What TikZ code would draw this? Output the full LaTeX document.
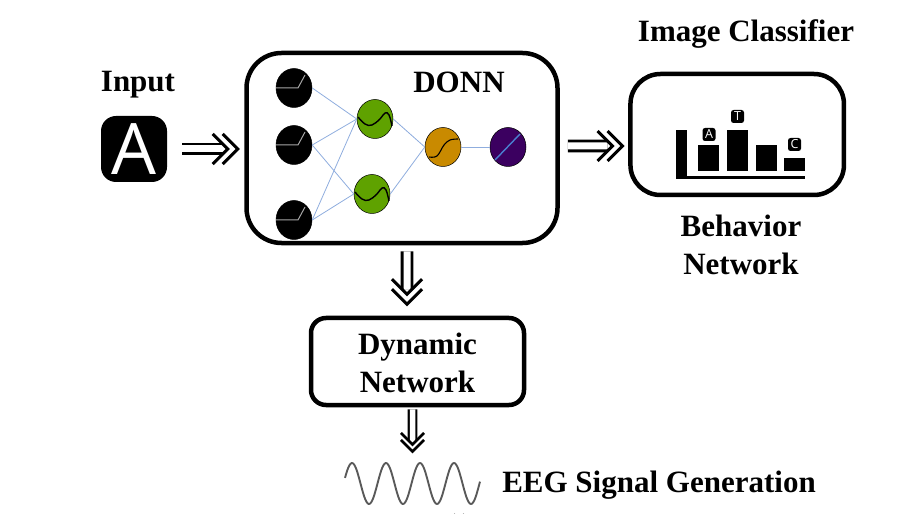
\documentclass[tikz,border=0pt]{standalone}
\usepackage{fontspec}
\setmainfont{Liberation Serif}
\newfontfamily\tagfont{Open Sans}
\usetikzlibrary{arrows.meta,shapes.geometric}
\definecolor{edgeblue}{HTML}{8FADDE}
\definecolor{slopeblue}{HTML}{4A7FD0}
\definecolor{sinegreen}{HTML}{5FA200}
\definecolor{sigorange}{HTML}{C98A00}
\definecolor{linpurple}{HTML}{3B0060}
\pgfdeclarearrow{
  name=Chevrons,
  defaults={length=10bp,width=30bp,line width=3bp},
  parameters={\the\pgfarrowlength,\the\pgfarrowwidth,\the\pgfarrowlinewidth},
  setup code={
    \pgfarrowssettipend{.7\pgfarrowlinewidth}
    \pgfarrowssetlineend{-1.5\pgfarrowlength}
    \pgfarrowssetbackend{-2.5\pgfarrowlength}
    \pgfarrowssetvisualbackend{-1.5\pgfarrowlength}
    \pgfarrowssavethe\pgfarrowlength
    \pgfarrowssavethe\pgfarrowwidth
    \pgfarrowssavethe\pgfarrowlinewidth
  },
  drawing code={
    \pgfsetdash{}{+0pt}
    \pgfsetbuttcap
    \pgfsetmiterjoin
    \pgfsetlinewidth{\pgfarrowlinewidth}
    \pgfpathmoveto{\pgfpoint{-.5\pgfarrowwidth}{.5\pgfarrowwidth}}
    \pgfpathlineto{\pgfpoint{0pt}{0pt}}
    \pgfpathlineto{\pgfpoint{-.5\pgfarrowwidth}{-.5\pgfarrowwidth}}
    \pgfpathmoveto{\pgfpoint{-\pgfarrowlength-.5\pgfarrowwidth}{.5\pgfarrowwidth}}
    \pgfpathlineto{\pgfpoint{-\pgfarrowlength}{0pt}}
    \pgfpathlineto{\pgfpoint{-\pgfarrowlength-.5\pgfarrowwidth}{-.5\pgfarrowwidth}}
    \pgfusepathqstroke
  }
}
\tikzset{
  boldtext/.style={font=\fontsize{31bp}{38bp}\selectfont\bfseries,inner sep=0pt},
  panel/.style={draw,line width=4.5bp,rounded corners=#1,inner sep=0pt},
  neuron/.style={draw,ellipse,line width=.5bp,minimum width=36bp,minimum height=39bp,inner sep=0pt},
  link/.style={edgeblue,line width=.8bp},
  bar/.style={fill=black,draw=none,inner sep=0pt,anchor=south west},
  classtag/.style={fill=black,text=white,rounded corners=2.5bp,minimum size=13bp,inner sep=0pt,font=\tagfont\fontsize{12.5bp}{12.5bp}\selectfont},
  bigarrow/.style={double,double distance=7bp,line width=2.8bp,-{Chevrons[length=10bp,width=30bp,line width=3bp]}},
  smallarrow/.style={double,double distance=5.5bp,line width=2.2bp,-{Chevrons[length=7bp,width=23bp,line width=2.6bp]}},
}
\begin{document}
\begin{tikzpicture}[x=1bp,y=-1bp,line join=round]
\useasboundingbox (0,0) rectangle (920,514);
%%
\node (input) at (134,149) [fill=black,rounded corners=15bp,minimum size=66bp,inner sep=0pt,text=white,font=\tagfont\fontsize{71bp}{71bp}\selectfont] {A};
\node (donn) at (402,148) [panel=35bp,minimum width=311bp,minimum height=190bp] {};
\node (classifier) at (737.2,134.5) [panel=30bp,minimum width=213.5bp,minimum height=121bp] {};
\node (dynamic) at (417.5,361.5) [panel=15bp,minimum width=213bp,minimum height=87bp,boldtext,align=center] {\rule{0pt}{24bp}Dynamic\\Network};
\node (wave) at (412.5,483.5) [minimum width=136bp,minimum height=42bp,inner sep=0pt] {};
%%
\node (inputtext) at (138,85) [boldtext] {Input};
\node (donntext) at (459,82) [boldtext] {DONN};
\node (classifiertext) at (746,34) [boldtext] {Image Classifier};
\node (behaviortext) at (741,245) [boldtext,align=center] {Behavior\\Network};
\node (eegtext) at (659,485) [boldtext] {EEG Signal Generation};
%%
\node (r1) at (294,88) [neuron,fill=black] {};
\node (r2) at (294,145) [neuron,fill=black] {};
\node (r3) at (294,220) [neuron,fill=black] {};
\node (s1) at (375,119) [neuron,fill=sinegreen] {};
\node (s2) at (372,194) [neuron,fill=sinegreen] {};
\node (t1) at (443,147) [neuron,fill=sigorange] {};
\node (l1) at (508,147) [neuron,fill=linpurple] {};
%%
\foreach \a/\b in {r1/s1,r2/s1,r3/s1,r2/s2,r3/s2,s1/t1,s2/t1,t1/l1}
  \draw [link] (\a.east) -- (\b.west);
%%
\foreach \n in {r1,r2,r3}
  \draw [gray!70,line width=1bp,shift={(\n)}] (-18,0) -- (4,0) -- (11,-13);
\foreach \n in {s1,s2}
  \draw [black,line width=1.4bp,shift={(\n)}] plot [smooth,tension=.7] coordinates {(-17,-2) (-10,5) (-3,6) (5,0) (10,-6) (14,-4) (17,7)};
\draw [black,line width=1.1bp,shift={(t1)}] plot [smooth,tension=.6] coordinates {(-14,10) (-6,9) (1,-2) (7,-7) (15,-8)};
\draw [slopeblue,line width=1.4bp,shift={(l1)}] (-13,13) -- (12,-13);
%%
\fill [black] (676,179.5) rectangle (687,130);
\fill [black] (676,179.5) rectangle (805,176);
\node (bara) at (698,171) [bar,minimum width=21bp,minimum height=26bp] {};
\node (bart) at (727,171) [bar,minimum width=21bp,minimum height=41bp] {};
\node (barg) at (756,171) [bar,minimum width=21bp,minimum height=26bp] {};
\node (barc) at (784,171) [bar,minimum width=21bp,minimum height=13bp] {};
\node (taga) at (709,134.5) [classtag] {A};
\node (tagt) at (737.5,116.5) [classtag] {T};
\node (tagc) at (794.5,144.5) [classtag] {C};
%%
\draw [bigarrow] ([xshift=15bp]input.east) -- ([xshift=-4.5bp,yshift=-1bp]donn.west);
\draw [bigarrow] ([xshift=8bp,yshift=2bp]donn.east) -- ([xshift=-3.5bp,yshift=-11.5bp]classifier.west);
\draw [bigarrow] ([xshift=5bp,yshift=-6bp]donn.south) -- ([xshift=-10.5bp,yshift=9.5bp]dynamic.north);
\draw [smallarrow] ([xshift=-5bp,yshift=-2bp]dynamic.south) -- ([yshift=9bp]wave.north);
%%
\draw [black!65,line width=1.9bp] plot [domain=345:480,samples=120,smooth] (\x,{483.5-20.5*cos((\x-352)*10.588)});
\draw [black!65,line width=1.9bp] (454,514) arc (180:360:5 and -3);
%
\end{tikzpicture}
\end{document}
